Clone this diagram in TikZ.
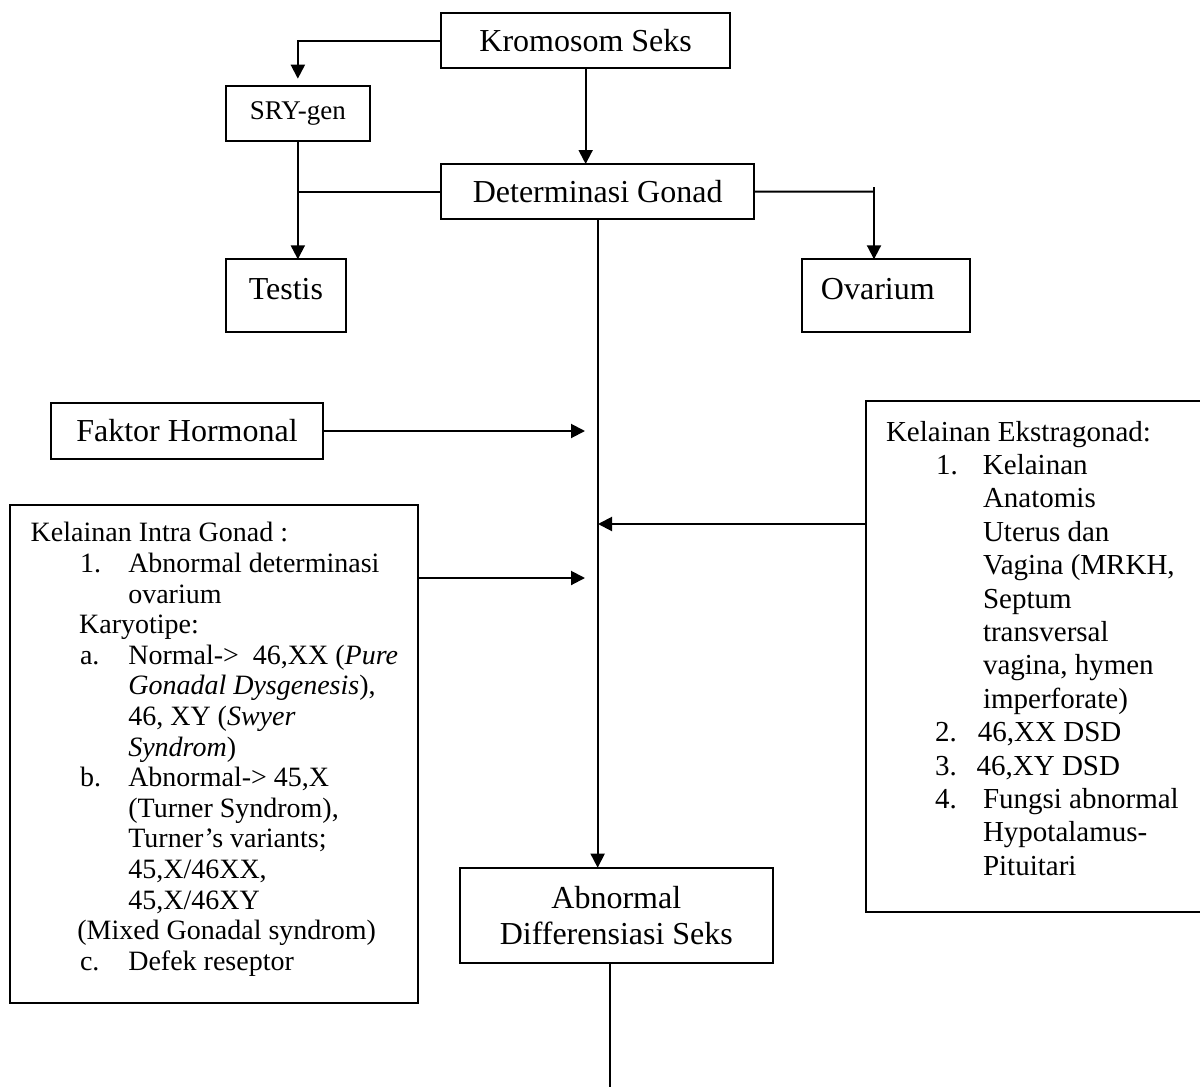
\documentclass[tikz,border=0pt]{standalone}
\usepackage{fontspec}
\setmainfont{Liberation Serif}
\usetikzlibrary{arrows.meta}
\begin{document}
\begin{tikzpicture}[x=1pt,y=-1pt,
  box/.style={draw, line width=2.2pt, rectangle, inner sep=0pt, outer sep=0pt, anchor=north west, align=center},
  big/.style={font=\fontsize{32}{36.8}\selectfont},
  conn/.style={line width=2pt},
  arr/.style={conn, -{Triangle[length=14pt,width=14pt]}},
  listtext/.style={anchor=north west, inner sep=0pt, outer sep=0pt, align=left}
]
\useasboundingbox (0,0) rectangle (1200,1087);
\fill[white] (0,0) rectangle (1200,1087);

% boxes
\node[box, big, minimum width=288.7pt, minimum height=55.6pt] (krom) at (441.3,12.7) {Kromosom Seks};
\node[box, font=\fontsize{27}{31}\selectfont, minimum width=144.3pt, minimum height=55pt] (sry) at (225.7,85.7) {SRY-gen};
\node[box, big, minimum width=312.7pt, minimum height=55.3pt] (det) at (441.3,164) {Determinasi Gonad};
\node[box, big, text depth=13pt, minimum width=120.3pt, minimum height=73pt] (testis) at (225.7,259.3) {Testis};
\node[box, big, text depth=13pt, minimum width=168.3pt, minimum height=73pt] (ovar) at (801.7,259.3) {\hspace*{-16pt}Ovarium};
\node[box, big, minimum width=272pt, minimum height=56pt] (fak) at (51,403) {Faktor Hormonal};
\node[box, minimum width=408pt, minimum height=498pt] (intra) at (10,505) {};
\node[box, minimum width=345pt, minimum height=511.3pt] (ekstra) at (865.7,400.7) {};
\node[box, big, minimum width=312.7pt, minimum height=95.6pt] (abn) at (460,867.7) {Abnormal\\Differensiasi Seks};

% list texts
\node[listtext, font=\fontsize{28}{30.6}\selectfont] (intratext) at (30.7,522.4) {%
Kelainan Intra Gonad :\\
\hspace*{49.3pt}\makebox[48.3pt][l]{1.}Abnormal determinasi\\
\hspace*{97.6pt}ovarium\\
\hspace*{48.5pt}Karyotipe:\\
\hspace*{49.3pt}\makebox[48.3pt][l]{a.}Normal->\ \ 46,XX (\textit{Pure}\\
\hspace*{97.6pt}\textit{Gonadal Dysgenesis}),\\
\hspace*{97.6pt}46, XY (\textit{Swyer}\\
\hspace*{97.6pt}\textit{Syndrom})\\
\hspace*{49.3pt}\makebox[48.3pt][l]{b.}Abnormal-> 45,X\\
\hspace*{97.6pt}(Turner Syndrom),\\
\hspace*{97.6pt}Turner's variants;\\
\hspace*{97.6pt}45,X/46XX,\\
\hspace*{97.6pt}45,X/46XY\\
\hspace*{46.6pt}(Mixed Gonadal syndrom)\\
\hspace*{49.3pt}\makebox[48.3pt][l]{c.}Defek reseptor};

\node[listtext, font=\fontsize{29}{33.4}\selectfont] (ekstratext) at (886,421) {%
Kelainan Ekstragonad:\\
\hspace*{50pt}\makebox[47pt][l]{1.}Kelainan\\
\hspace*{97pt}Anatomis\\
\hspace*{97pt}Uterus dan\\
\hspace*{97pt}Vagina (MRKH,\\
\hspace*{97pt}Septum\\
\hspace*{97pt}transversal\\
\hspace*{97pt}vagina, hymen\\
\hspace*{97pt}imperforate)\\
\hspace*{49pt}\makebox[43pt][l]{2.}46,XX DSD\\
\hspace*{49pt}\makebox[41.7pt][l]{3.}46,XY DSD\\
\hspace*{49pt}\makebox[48pt][l]{4.}Fungsi abnormal\\
\hspace*{97pt}Hypotalamus-\\
\hspace*{97pt}Pituitari};

% helper coordinates
\coordinate (fy) at (585,430);
\coordinate (iy) at (585,578);
\coordinate (ey) at (598,524);
\coordinate (ovj) at (874,191.7);
\coordinate (endb) at (610,1087);

% connectors
\draw[arr] (krom.west) -| ([yshift=7pt]sry.north);
\draw[arr] (krom.south) -- (krom.south |- det.north);
\draw[conn] (det.west) -- (det.west -| sry.south);
\draw[arr] (sry.south) -- (sry.south |- testis.north);
\draw[conn] (det.east) -- (ovj);
\draw[arr] ([yshift=4.5pt]ovj) -- (ovj |- ovar.north);
\draw[line width=1.8pt, -{Triangle[length=14pt,width=14pt]}] (det.south) -- (det.south |- abn.north);
\draw[arr] (fak.east) -- (fak.east -| fy);
\draw[arr] (intra.east |- iy) -- (iy);
\draw[arr] (ekstra.west |- ey) -- (ey);
\draw[conn] (abn.south -| endb) -- (endb);
\end{tikzpicture}
\end{document}
